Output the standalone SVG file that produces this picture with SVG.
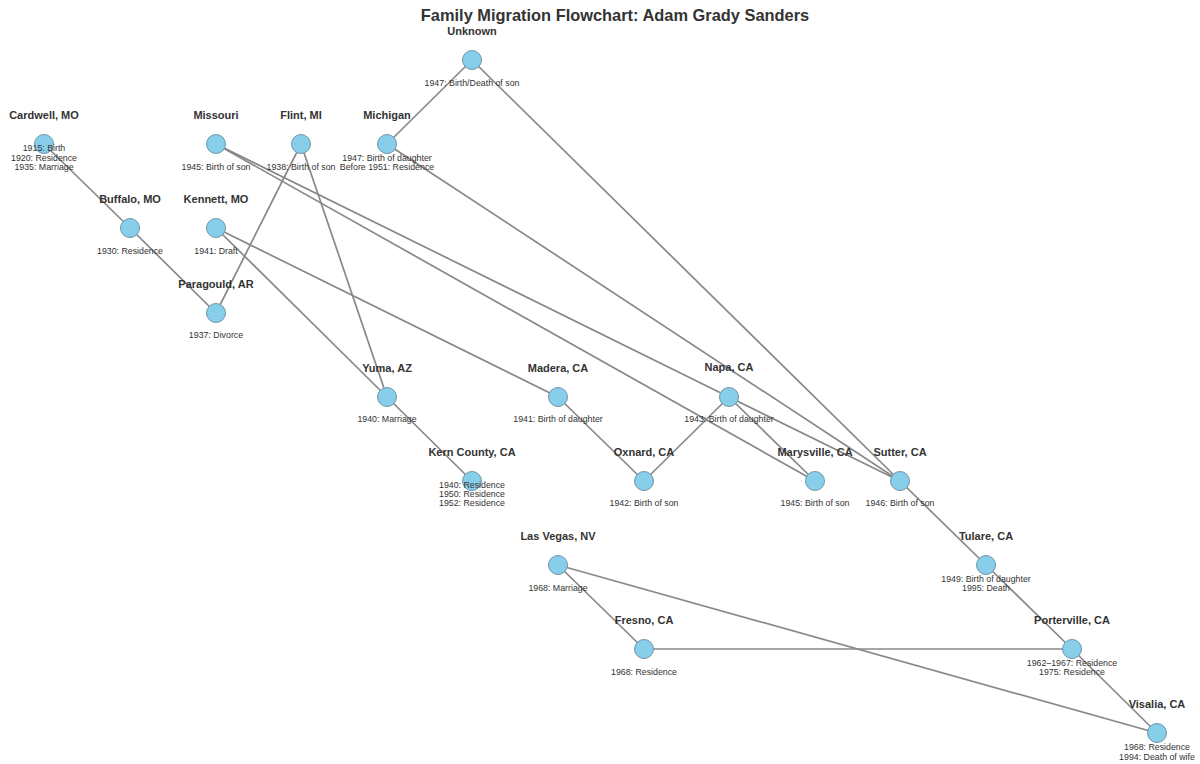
<svg xmlns="http://www.w3.org/2000/svg" width="1200" height="764" viewBox="0 0 1200 764">
<style>
.e{stroke:#888;stroke-width:1.7;fill:none}
.n{fill:#87CEEB;stroke:#6f96a8;stroke-width:1}
.t{font-family:"Liberation Sans",Arial,sans-serif;font-size:11px;font-weight:bold;fill:#333;text-anchor:middle}
.s{font-family:"Liberation Sans",Arial,sans-serif;font-size:8.8px;fill:#333;text-anchor:middle}
.h{font-family:"Liberation Sans",Arial,sans-serif;font-size:16.4px;font-weight:bold;fill:#333;text-anchor:middle}
</style>
<rect width="1200" height="764" fill="#fff"/>
<text class="h" x="615" y="21">Family Migration Flowchart: Adam Grady Sanders</text>
<g id="edges">
<line class="e" x1="44" y1="144" x2="130" y2="228"/>
<line class="e" x1="130" y1="228" x2="216" y2="313"/>
<line class="e" x1="216" y1="313" x2="301" y2="144"/>
<line class="e" x1="301" y1="144" x2="387" y2="397"/>
<line class="e" x1="216" y1="228" x2="387" y2="397"/>
<line class="e" x1="387" y1="397" x2="472" y2="481"/>
<line class="e" x1="216" y1="228" x2="558" y2="397"/>
<line class="e" x1="558" y1="397" x2="644" y2="481"/>
<line class="e" x1="644" y1="481" x2="729" y2="397"/>
<line class="e" x1="729" y1="397" x2="815" y2="481"/>
<line class="e" x1="216" y1="144" x2="729" y2="397"/>
<line class="e" x1="216" y1="144" x2="815" y2="481"/>
<line class="e" x1="729" y1="397" x2="900" y2="481"/>
<line class="e" x1="387" y1="144" x2="900" y2="481"/>
<line class="e" x1="472" y1="60" x2="387" y2="144"/>
<line class="e" x1="472" y1="60" x2="900" y2="481"/>
<line class="e" x1="900" y1="481" x2="986" y2="565"/>
<line class="e" x1="986" y1="565" x2="1072" y2="649"/>
<line class="e" x1="1072" y1="649" x2="644" y2="649"/>
<line class="e" x1="644" y1="649" x2="558" y2="565"/>
<line class="e" x1="558" y1="565" x2="1157" y2="733"/>
<line class="e" x1="1072" y1="649" x2="1157" y2="733"/>
</g>
<g id="unknown"><circle class="n" cx="472" cy="60" r="9.5"/><text class="t" x="472" y="35">Unknown</text><text class="s" x="472" y="86">1947: Birth/Death of son</text></g>
<g id="cardwell"><circle class="n" cx="44" cy="144" r="9.5"/><text class="t" x="44" y="119">Cardwell, MO</text><text class="s" x="44" y="151">1915: Birth</text><text class="s" x="44" y="160.5">1920: Residence</text><text class="s" x="44" y="170">1935: Marriage</text></g>
<g id="missouri"><circle class="n" cx="216" cy="144" r="9.5"/><text class="t" x="216" y="119">Missouri</text><text class="s" x="216" y="170">1945: Birth of son</text></g>
<g id="flint"><circle class="n" cx="301" cy="144" r="9.5"/><text class="t" x="301" y="119">Flint, MI</text><text class="s" x="301" y="170">1938: Birth of son</text></g>
<g id="michigan"><circle class="n" cx="387" cy="144" r="9.5"/><text class="t" x="387" y="119">Michigan</text><text class="s" x="387" y="160.5">1947: Birth of daughter</text><text class="s" x="387" y="170">Before 1951: Residence</text></g>
<g id="buffalo"><circle class="n" cx="130" cy="228" r="9.5"/><text class="t" x="130" y="203">Buffalo, MO</text><text class="s" x="130" y="254">1930: Residence</text></g>
<g id="kennett"><circle class="n" cx="216" cy="228" r="9.5"/><text class="t" x="216" y="203">Kennett, MO</text><text class="s" x="216" y="254">1941: Draft</text></g>
<g id="paragould"><circle class="n" cx="216" cy="313" r="9.5"/><text class="t" x="216" y="288">Paragould, AR</text><text class="s" x="216" y="338">1937: Divorce</text></g>
<g id="yuma"><circle class="n" cx="387" cy="397" r="9.5"/><text class="t" x="387" y="372">Yuma, AZ</text><text class="s" x="387" y="422">1940: Marriage</text></g>
<g id="madera"><circle class="n" cx="558" cy="397" r="9.5"/><text class="t" x="558" y="372">Madera, CA</text><text class="s" x="558" y="422">1941: Birth of daughter</text></g>
<g id="napa"><circle class="n" cx="729" cy="397" r="9.5"/><text class="t" x="729" y="371">Napa, CA</text><text class="s" x="729" y="422">1943: Birth of daughter</text></g>
<g id="kern"><circle class="n" cx="472" cy="481" r="9.5"/><text class="t" x="472" y="456">Kern County, CA</text><text class="s" x="472" y="488">1940: Residence</text><text class="s" x="472" y="497">1950: Residence</text><text class="s" x="472" y="506">1952: Residence</text></g>
<g id="oxnard"><circle class="n" cx="644" cy="481" r="9.5"/><text class="t" x="644" y="456">Oxnard, CA</text><text class="s" x="644" y="506">1942: Birth of son</text></g>
<g id="marysville"><circle class="n" cx="815" cy="481" r="9.5"/><text class="t" x="815" y="456">Marysville, CA</text><text class="s" x="815" y="506">1945: Birth of son</text></g>
<g id="sutter"><circle class="n" cx="900" cy="481" r="9.5"/><text class="t" x="900" y="456">Sutter, CA</text><text class="s" x="900" y="506">1946: Birth of son</text></g>
<g id="lasvegas"><circle class="n" cx="558" cy="565" r="9.5"/><text class="t" x="558" y="540">Las Vegas, NV</text><text class="s" x="558" y="591">1968: Marriage</text></g>
<g id="tulare"><circle class="n" cx="986" cy="565" r="9.5"/><text class="t" x="986" y="540">Tulare, CA</text><text class="s" x="986" y="581.5">1949: Birth of daughter</text><text class="s" x="986" y="591">1995: Death</text></g>
<g id="fresno"><circle class="n" cx="644" cy="649" r="9.5"/><text class="t" x="644" y="624">Fresno, CA</text><text class="s" x="644" y="675">1968: Residence</text></g>
<g id="porterville"><circle class="n" cx="1072" cy="649" r="9.5"/><text class="t" x="1072" y="624">Porterville, CA</text><text class="s" x="1072" y="665.5">1962–1967: Residence</text><text class="s" x="1072" y="675">1975: Residence</text></g>
<g id="visalia"><circle class="n" cx="1157" cy="733" r="9.5"/><text class="t" x="1157" y="708">Visalia, CA</text><text class="s" x="1157" y="750">1968: Residence</text><text class="s" x="1157" y="759.5">1994: Death of wife</text></g>
</svg>
